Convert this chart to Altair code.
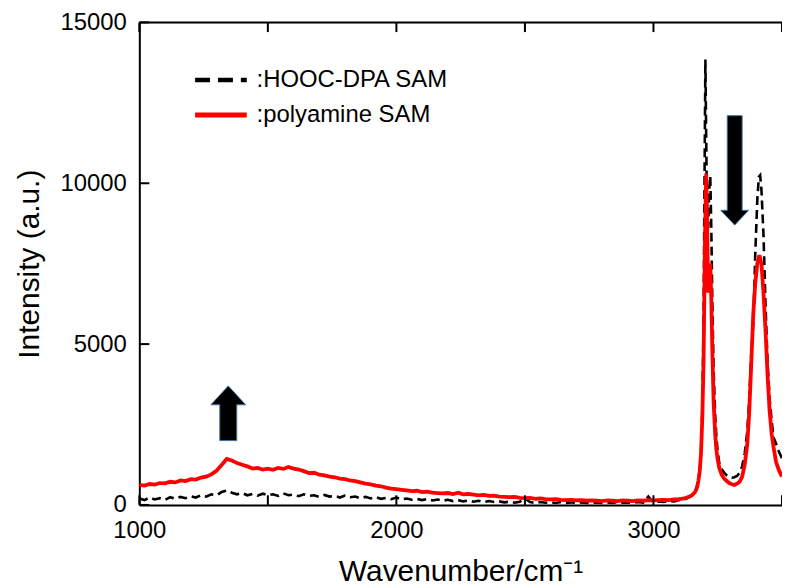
import altair as alt
import pandas as pd

FONT = "Liberation Sans"

# ---------------- data ----------------
base_wn = [1000 + 20 * i for i in range(108)]  # 1000 .. 3140

red_base = [620, 600, 650, 630, 680, 670, 720, 700, 760, 740, 800, 790, 850, 880, 950, 1060, 1240, 1430,
            1380, 1300, 1250, 1200, 1130, 1150, 1100, 1130, 1090, 1150, 1120, 1180, 1130, 1100, 1050, 990,
            1000, 940, 920, 880, 860, 820, 800, 760, 740, 700, 660, 640, 600, 580, 540, 510, 490, 470, 450,
            430, 440, 400, 410, 380, 370, 360, 370, 340, 380, 330, 340, 320, 300, 310, 280, 290, 260, 250,
            240, 250, 220, 210, 220, 190, 200, 180, 170, 180, 160, 150, 160, 140, 150, 130, 140, 130, 120,
            140, 130, 120, 140, 130, 120, 140, 130, 150, 140, 150, 160, 150, 170, 180, 200, 260]

black_base = [200, 150, 230, 170, 210, 160, 240, 190, 250, 210, 270, 230, 300, 260, 330, 300, 400, 450,
              380, 330, 370, 300, 340, 290, 350, 300, 330, 280, 360, 300, 320, 270, 330, 280, 300, 250,
              310, 260, 280, 230, 290, 240, 260, 210, 250, 200, 240, 190, 220, 180, 230, 170, 200, 160,
              190, 150, 180, 140, 170, 130, 160, 120, 150, 110, 140, 100, 130, 90, 120, 90, 110, 80, 100,
              70, 100, 200, 90, 60, 90, 70, 80, 60, 90, 60, 80, 50, 80, 60, 70, 70, 60, 80, 60, 90, 70, 80,
              60, 90, 70, 260, 80, 110, 90, 120, 110, 150, 170, 240]

red_peak_wn = [3150, 3160, 3165, 3170, 3175, 3180, 3185, 3190, 3195, 3200, 3205, 3209, 3213, 3217, 3221,
               3225, 3229, 3234, 3240, 3245, 3250, 3256, 3265, 3275, 3285, 3295, 3305, 3315, 3325, 3335,
               3345, 3355, 3365, 3372, 3380, 3388, 3396, 3404, 3412, 3420, 3428, 3436, 3444, 3452, 3460,
               3467, 3477, 3488, 3500]
red_peak = [300, 380, 450, 560, 750, 1050, 1600, 2700, 4500, 8000, 10300, 8600, 6600, 7200, 7500,
            6400, 4800, 3200, 2200, 1700, 1400, 1150, 950, 820, 740, 680, 640, 620, 660, 720,
            880, 1250, 1900, 2800, 4300, 5900, 6900, 7500, 7760, 7500, 6600, 5400, 4000, 2900, 2200,
            1800, 1330, 1080, 880]

black_peak_wn = [3150, 3160, 3165, 3170, 3175, 3180, 3185, 3190, 3195, 3199, 3202, 3205, 3209, 3213, 3217,
                 3221, 3225, 3229, 3234, 3240, 3245, 3250, 3256, 3265, 3275, 3285, 3295, 3305, 3315, 3325,
                 3335, 3345, 3355, 3365, 3372, 3380, 3388, 3396, 3404, 3410, 3415, 3420, 3428, 3436, 3444,
                 3452, 3460, 3467, 3477, 3488, 3500]
black_peak = [300, 400, 470, 600, 800, 1100, 1650, 2900, 5800, 10500, 13850, 11500, 8800, 8600, 9800,
              10230, 8600, 6300, 4200, 2800, 2100, 1650, 1300, 1120, 1000, 920, 870, 850, 860, 900,
              1000, 1200, 1600, 2300, 3200, 4600, 5600, 7800, 9500, 10200, 10250, 9800, 8400, 6200, 4400,
              3300, 2600, 2100, 1900, 1650, 1450]

x_ticks = [1000, 1500, 2000, 2500, 3000, 3500]
x_labels = [1000, 2000, 3000]
y_ticks = [0, 5000, 10000, 15000]

legend_labels = [":HOOC-DPA SAM", ":polyamine SAM"]
series_colors = ["#000000", "#ff0000"]

# ---------------- styles / layout constants ----------------
X_DOM = [1000, 3500]
Y_DOM = [0, 15000]
TICK_DY = 300       # tick length in intensity units (~10 px)
TICK_DX = 39        # tick length in wavenumber units (~10 px)

black_df = pd.DataFrame({"w": base_wn + black_peak_wn, "I": black_base + black_peak})
red_df = pd.DataFrame({"w": base_wn + red_peak_wn, "I": red_base + red_peak})

xs = alt.Scale(domain=X_DOM, nice=False, zero=False)
ys = alt.Scale(domain=Y_DOM, nice=False)

x_enc = alt.X("w:Q", scale=xs, axis=alt.Axis(
    values=x_labels, format="d", title="Wavenumber/cm⁻¹", ticks=False, grid=False, labelFlush=False,
    domainColor="black", domainWidth=2, labelFontSize=24, labelFont=FONT, labelColor="black",
    labelPadding=14, titleFontSize=30, titleFont=FONT, titleFontWeight="normal", titleColor="black",
    titlePadding=14))
y_enc = alt.Y("I:Q", scale=ys, axis=alt.Axis(
    values=y_ticks, format="d", title="Intensity (a.u.)", ticks=False, grid=False, labelFlush=False,
    domainColor="black", domainWidth=2, labelFontSize=24, labelFont=FONT, labelColor="black",
    labelPadding=13, titleFontSize=30, titleFont=FONT, titleFontWeight="normal", titleColor="black",
    titlePadding=16))

black_line = alt.Chart(black_df).mark_line(
    color=series_colors[0], strokeWidth=2.6, strokeDash=[9, 5], clip=True
).encode(x=x_enc, y=y_enc)

red_line = alt.Chart(red_df).mark_line(
    color=series_colors[1], strokeWidth=3.8, clip=True
).encode(x="w:Q", y="I:Q")

# frame: top line
top_df = pd.DataFrame({"x": [X_DOM[0]], "x2": [X_DOM[1]], "y": [Y_DOM[1]]})
top_line = alt.Chart(top_df).mark_rule(color="black", strokeWidth=2).encode(
    x=alt.X("x:Q", scale=xs), x2="x2:Q", y=alt.Y("y:Q", scale=ys))

# inward ticks
xt_rows = []
for v in x_ticks:
    xt_rows.append({"x": v, "y": Y_DOM[0], "y2": Y_DOM[0] + TICK_DY})
    xt_rows.append({"x": v, "y": Y_DOM[1] - TICK_DY, "y2": Y_DOM[1]})
xticks = alt.Chart(pd.DataFrame(xt_rows)).mark_rule(color="black", strokeWidth=2).encode(
    x=alt.X("x:Q", scale=xs), y=alt.Y("y:Q", scale=ys), y2="y2:Q")
yt_df = pd.DataFrame({"x": [X_DOM[0]] * len(y_ticks), "x2": [X_DOM[0] + TICK_DX] * len(y_ticks), "y": y_ticks})
yticks = alt.Chart(yt_df).mark_rule(color="black", strokeWidth=2).encode(
    x=alt.X("x:Q", scale=xs), x2="x2:Q", y=alt.Y("y:Q", scale=ys))

# legend (manual)
LEG_X0, LEG_X1, LEG_TX = 1217, 1418, 1456
LEG_Y = [13210, 12125]
leg_black = alt.Chart(pd.DataFrame({"x": [LEG_X0], "x2": [LEG_X1], "y": [LEG_Y[0]]})).mark_rule(
    color=series_colors[0], strokeWidth=4.5, strokeDash=[15, 8]).encode(
    x=alt.X("x:Q", scale=xs), x2="x2:Q", y=alt.Y("y:Q", scale=ys))
leg_red = alt.Chart(pd.DataFrame({"x": [LEG_X0], "x2": [LEG_X1], "y": [LEG_Y[1]]})).mark_rule(
    color=series_colors[1], strokeWidth=5).encode(
    x=alt.X("x:Q", scale=xs), x2="x2:Q", y=alt.Y("y:Q", scale=ys))
leg_text = alt.Chart(pd.DataFrame({"x": [LEG_TX, LEG_TX], "y": LEG_Y, "t": legend_labels})).mark_text(
    align="left", baseline="middle", fontSize=24, font=FONT, color="black").encode(
    x=alt.X("x:Q", scale=xs), y=alt.Y("y:Q", scale=ys), text="t:N")

# arrows
DOWN = "M -0.136 -1 L 0.136 -1 L 0.136 0.73 L 0.255 0.73 L 0 1 L -0.255 0.73 L -0.136 0.73 Z"
UP = "M 0 -1 L 0.636 -0.31 L 0.31 -0.31 L 0.31 1 L -0.31 1 L -0.31 -0.31 L -0.636 -0.31 Z"
arrow_down = alt.Chart(pd.DataFrame({"x": [3316], "y": [10400]})).mark_point(
    shape=DOWN, size=12100, filled=True, fill="black", stroke="#41719C", strokeWidth=1, opacity=1).encode(
    x=alt.X("x:Q", scale=xs), y=alt.Y("y:Q", scale=ys))
arrow_up = alt.Chart(pd.DataFrame({"x": [1346], "y": [2850]})).mark_point(
    shape=UP, size=3025, filled=True, fill="black", stroke="#41719C", strokeWidth=1, opacity=1).encode(
    x=alt.X("x:Q", scale=xs), y=alt.Y("y:Q", scale=ys))

chart = alt.layer(
    black_line, red_line, top_line, xticks, yticks, leg_black, leg_red, leg_text, arrow_down, arrow_up
).properties(
    width=646, height=485,
    autosize=alt.AutoSizeParams(type="none"),
    padding={"left": 132, "top": 13, "right": 0, "bottom": 80},
).configure_view(stroke=None).configure(background="white")

chart.save("out.html", embed_options={"renderer": "svg", "actions": False})
